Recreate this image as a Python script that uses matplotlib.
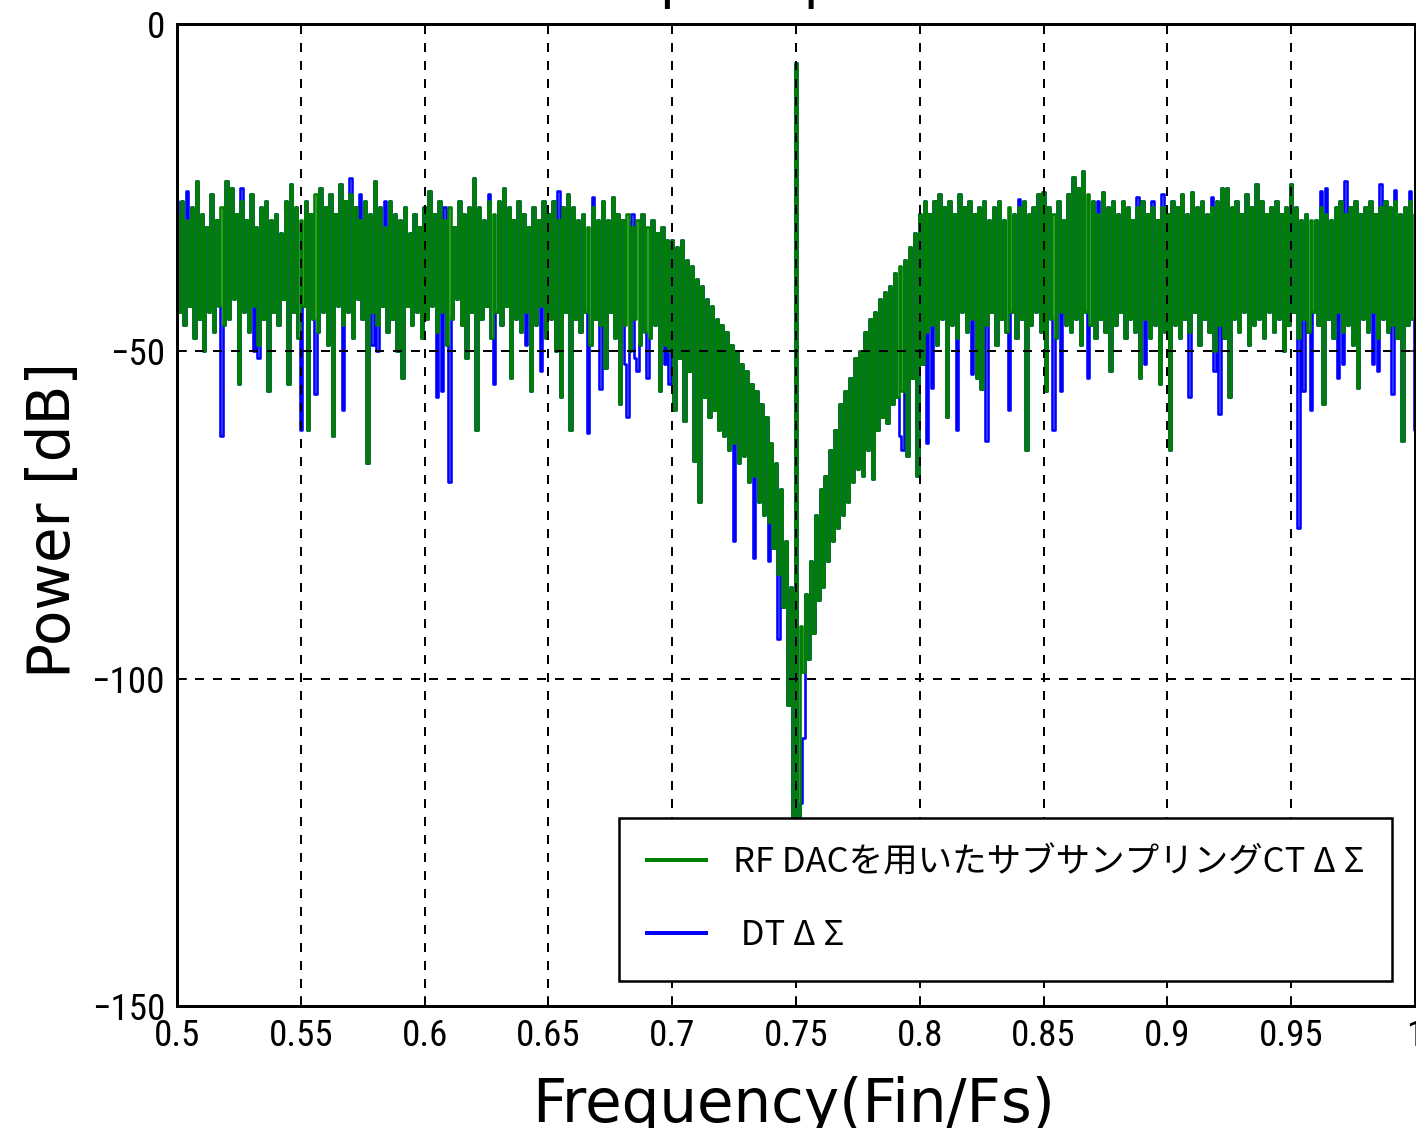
import matplotlib
matplotlib.use("Agg")
import matplotlib.pyplot as plt
import numpy as np
from matplotlib import font_manager

# spectre de sortie (dB), un point tous les 0.001 de Fin/Fs
CT_PLANCHER_BAS = [  # 0.500 -> 0.699
    -29, -44, -27, -46, -30, -43, -28, -48, -24, -45, -29, -50, -31, -44, -26, -47, -30, -43, -28, -46,
    -24, -45, -25, -42, -29, -55, -27, -44, -30, -47, -26, -43, -31, -49, -28, -45, -27, -56, -30, -44,
    -29, -46, -32, -42, -27, -55, -24.5, -44, -28, -48, -30, -43, -27, -62, -29, -45, -26, -47, -25, -44,
    -28, -49, -26, -63, -29, -43, -24.5, -46, -27, -44, -26, -48, -28, -42, -30, -45, -27, -67, -29, -44,
    -24, -46, -28, -43, -31, -47, -27, -45, -29, -50, -30, -54, -28, -43, -32, -46, -29, -44, -31, -48,
    -28, -45, -25.5, -43, -29, -47, -27, -44, -30, -49, -28, -45, -31, -42, -27, -46, -29, -51, -28, -44,
    -23.5, -62, -28, -45, -30, -43, -27, -48, -29, -44, -27, -46, -25, -43, -28, -54, -30, -45, -27, -47,
    -29, -44, -31, -56, -28, -46, -30, -43, -27, -48, -29, -45, -27, -50, -30, -57, -28, -44, -26, -62,
    -28, -45, -30, -47, -29, -44, -31, -49, -28, -45, -30, -46, -27, -52.5, -30, -44, -26.5, -48, -29, -58,
    -30, -46, -29, -50, -31, -45, -30, -49, -29, -47, -31, -48, -30, -46, -32, -56, -31, -49, -33, -50,
]
CT_ENCOCHE = [  # 0.700 -> 0.799
    -33, -59, -34, -51, -33, -60.6, -36, -53, -37, -66.7, -39, -73, -40, -57, -42, -60, -43, -59, -45, -62,
    -46, -63, -47, -65, -49, -64, -50, -67, -52, -66, -53, -70, -55, -69, -56, -73, -58, -75, -60, -76,
    -64, -80, -67, -84, -71, -89, -79, -104, -86, -132, -6, -132, -92, -99, -87, -97, -82, -93, -75, -88,
    -71, -86, -69, -82, -65, -79, -62, -77, -58, -75, -56, -73, -54, -70, -51, -68, -50, -69, -47, -65,
    -45, -69.5, -44, -62, -42, -60, -41, -61, -40, -58, -38, -57, -37, -56, -36, -66, -34, -54, -32, -69,
]
CT_PLANCHER_HAUT = [  # 0.800 -> 1.000
    -29, -52, -27, -47, -29, -46, -27, -49, -26, -45, -28, -60, -27, -46, -29, -48, -26, -44, -28, -47,
    -27, -45, -29, -54, -28, -55.8, -27, -46, -30, -44, -28, -49, -27, -45, -30, -47, -28, -44, -29, -48,
    -28, -45, -27, -65, -29, -46, -28, -44, -26, -47, -25.6, -56, -28, -45, -29, -48, -27, -44, -30, -46,
    -26, -47, -23.4, -45, -25, -49, -22.4, -44, -26, -46, -27, -48, -29, -45, -25.6, -47, -28, -53, -27, -46,
    -29, -44, -27, -48, -28, -45, -30, -47, -28, -54, -27, -45, -29, -48, -28, -46, -30, -55, -28, -47,
    -29, -65, -27, -46, -28, -48, -26, -45, -29, -47, -25.6, -44, -28, -49, -27, -45, -29, -47, -28, -50,
    -27, -46, -25, -48, -25, -57, -28, -45, -27, -47, -29, -44, -26, -49, -28, -46, -24.5, -45, -27, -48,
    -29, -44, -28, -47, -27, -45, -29, -50, -28, -46, -24.5, -44, -28, -48, -30, -45, -29, -47, -30, -44,
    -30, -46, -28, -58, -29, -45, -30, -48, -28, -44, -27, -47, -29, -46, -28, -49, -27, -55.6, -29, -45,
    -28, -47, -27, -44, -29, -48, -28, -45, -27, -47, -28, -46, -27, -48, -29, -63.7, -28, -46, -27, -45,
    -29,
]
# la courbe DT se confond avec la CT sauf a ces points (indice, dB)
DT_ECARTS = [
    (0, -27), (4, -25.5), (18, -63), (26, -25), (31, -50), (33, -51), (50, -62), (56, -56.5), (67, -59),
    (70, -23.5), (74, -26), (79, -49), (81, -50), (84, -27), (105, -57), (107, -56), (108, -28), (110, -70),
    (126, -26), (128, -55), (141, -49), (147, -53), (154, -25.5), (166, -62.5), (168, -26.4), (171, -55.7),
    (181, -52), (182, -60), (184, -29), (185, -51), (186, -53), (190, -54), (197, -52), (199, -55),
    (225, -79), (233, -81.5), (239, -82), (243, -94), (252, -119), (253, -109), (292, -63), (293, -65),
    (303, -64), (305, -55.6), (315, -62), (321, -53.5), (327, -63.7), (336, -59), (340, -26.7), (354, -62),
    (357, -56), (368, -54), (372, -27), (388, -26.5), (391, -52), (394, -27), (398, -26), (409, -57),
    (418, -26.4), (419, -53), (421, -59.6), (453, -77), (455, -56), (458, -59), (462, -25.5), (464, -25),
    (469, -54), (471, -52), (472, -24), (483, -52), (485, -53), (486, -24.5), (491, -56.5), (492, -25.4),
    (498, -25.5), (500, -62),
]

X_TICKS = [0.5, 0.55, 0.6, 0.65, 0.7, 0.75, 0.8, 0.85, 0.9, 0.95, 1.0]
X_LABELS = ["0.5", "0.55", "0.6", "0.65", "0.7", "0.75", "0.8", "0.85", "0.9", "0.95", "1"]
Y_TICKS = [-150, -100, -50, 0]
Y_LABELS = ["\u2212150", "\u2212100", "\u221250", "0"]

LEGENDE_CT = "RF DACを用いたサブサンプリングCT Δ Σ"
LEGENDE_DT = " DT Δ Σ"

VERT = "#008000"
BLEU = "#0000ff"

INSTALLEES = {f.name for f in font_manager.fontManager.ttflist}
ETROITE = next((n for n in ("Liberation Sans Narrow", "DejaVu Sans Condensed", "Roboto Condensed")
                if n in INSTALLEES), "DejaVu Sans")


def main() -> None:
    ct = np.array(CT_PLANCHER_BAS + CT_ENCOCHE + CT_PLANCHER_HAUT, dtype=float)
    dt = ct.copy()
    for idx, val in DT_ECARTS:
        dt[idx] = val
    freq = np.linspace(0.5, 1.0, len(ct))

    fig = plt.figure(figsize=(1416 / 72, 1128 / 72), dpi=72)
    ax = fig.add_axes([177 / 1416, 122 / 1128, 1238 / 1416, 982 / 1128])

    ligne_dt, = ax.plot(freq, dt, color=BLEU, lw=2.6, drawstyle="steps-mid", label=LEGENDE_DT)
    ligne_ct, = ax.plot(freq, ct, color=VERT, lw=2.6, drawstyle="steps-mid", label=LEGENDE_CT)

    ax.set_xlim(0.5, 1.0)
    ax.set_ylim(-150, 0)
    ax.set_xticks(X_TICKS)
    ax.set_xticklabels(X_LABELS, fontfamily=ETROITE, fontsize=37)
    ax.set_yticks(Y_TICKS)
    ax.set_yticklabels(Y_LABELS, fontfamily=ETROITE, fontsize=37)
    ax.tick_params(direction="in", length=10, width=1.5, top=True, right=True, pad=12)
    for sp in ax.spines.values():
        sp.set_linewidth(3)
    ax.grid(True, color="black", lw=2, linestyle=(0, (4.5, 4.5)))
    ax.set_axisbelow(False)

    leg = ax.legend([ligne_ct, ligne_dt], [LEGENDE_CT, LEGENDE_DT], loc="lower right",
                    bbox_to_anchor=(1392 / 1416, 147 / 1128), bbox_transform=fig.transFigure,
                    borderaxespad=0, prop={"family": ["Noto Sans CJK JP", "DejaVu Sans"], "size": 34.5},
                    handlelength=1.7, handletextpad=0.8, borderpad=0.8, labelspacing=1.1,
                    fancybox=False, framealpha=1, edgecolor="black")
    leg.get_frame().set_linewidth(2.5)
    for l in leg.get_lines():
        l.set_linewidth(4)
        l.set_drawstyle("default")
    leg.set_zorder(10)

    fig.text(798 / 1416, 1 + 3 / 1128, "Output Spectrum", ha="center", va="baseline", fontsize=55)
    fig.text(794 / 1416, 6 / 1128, "Frequency(Fin/Fs)", ha="center", va="baseline", fontsize=59.5)
    fig.text(70 / 1416, 1 - 520 / 1128, "Power [dB]", rotation=90, rotation_mode="anchor",
             ha="center", va="baseline", fontsize=58)

    fig.savefig("out.png", dpi=72)
    plt.close(fig)


if __name__ == "__main__":
    main()
